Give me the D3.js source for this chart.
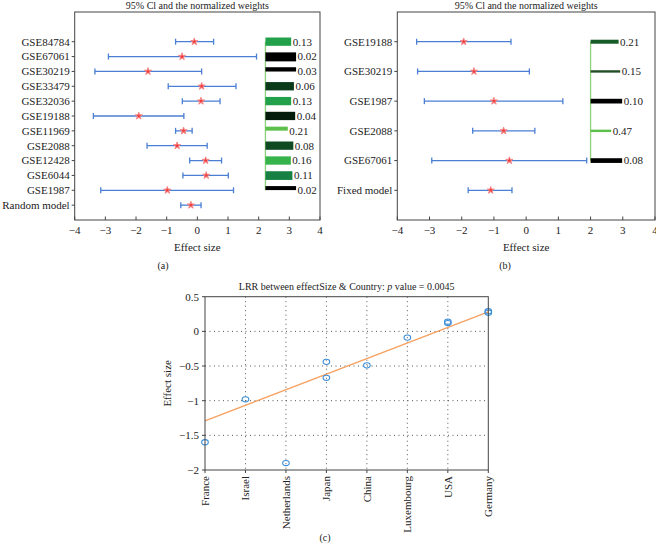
<!DOCTYPE html>
<html><head><meta charset="utf-8">
<script src="https://cdn.jsdelivr.net/npm/d3@7"></script>
<style>body{margin:0;background:#fff}svg{display:block}text{font-family:"Liberation Serif","DejaVu Serif",serif;fill:#222}</style>
</head><body><svg id="c" width="656" height="553"></svg>
<script>
// ---------- Data ----------
const studiesA = ["GSE84784","GSE67061","GSE30219","GSE33479","GSE32036","GSE19188","GSE11969","GSE2088","GSE12428","GSE6044","GSE1987","Random model"];
const effectA = [-0.10,-0.50,-1.61,0.14,0.12,-1.91,-0.45,-0.66,0.27,0.29,-0.98,-0.21];
const lowerA  = [-0.71,-2.90,-3.34,-0.95,-0.49,-3.39,-0.71,-1.64,-0.25,-0.47,-3.15,-0.54];
const upperA  = [0.53,1.93,0.14,1.26,0.74,-0.44,-0.17,0.32,0.79,1.01,1.18,0.12];
const weightsA = [0.13,0.02,0.03,0.06,0.13,0.04,0.21,0.08,0.16,0.11,0.02];
const barEndA  = [3.06,3.22,3.22,3.15,3.06,3.19,2.95,3.13,3.05,3.10,3.22];
const barStartA = 2.22;
const barColorsA = ["#22a14a","#000000","#000000","#0b3a1b","#22a14a","#041c0b","#5ec04c","#0f4a23","#36b34b","#178143","#000000"];
const barThickA = [8.3,9,4.3,8.3,8.3,8.3,4,8.3,8.3,8.7,4];

const studiesB = ["GSE19188","GSE30219","GSE1987","GSE2088","GSE67061","Fixed model"];
const effectB = [-1.94,-1.62,-1.00,-0.70,-0.52,-1.10];
const lowerB  = [-3.40,-3.37,-3.16,-1.66,-2.93,-1.80];
const upperB  = [-0.47,0.10,1.14,0.27,1.88,-0.44];
const weightsB = [0.21,0.15,0.10,0.47,0.08];
const barEndB  = [2.87,2.92,2.98,2.64,2.98];
const barStartB = 2.0;
const barColorsB = ["#175b29","#234e28","#000000","#5cc04b","#000000"];
const barThickB = [4,2.4,4.7,2.4,4.7];

const countries = ["France","Israel","Netherlands","Japan","China","Luxembourg","USA","Germany"];
const pointCountry = ["France","Israel","Netherlands","Japan","Japan","China","Luxembourg","USA","USA","Germany","Germany"];
const pointEffect  = [-1.60,-0.98,-1.90,-0.44,-0.67,-0.49,-0.09,0.14,0.12,0.27,0.29];
const fitEnds = [-1.29,0.28];
const xTicks = [-4,-3,-2,-1,0,1,2,3,4];
const yTicksC = [0.5,0,-0.5,-1,-1.5,-2];

// ---------- Drawing ----------
const svg = d3.select("#c");
const FRAME = "#444";
const EB = "#4a7fd3";

function forest(opt){
  const g = svg.append("g");
  const x = d3.scaleLinear().domain([-4,4]).range([opt.left,opt.right]);
  const y = d3.scaleLinear().domain(opt.ydom).range([opt.top,opt.bottom]);
  // title
  g.append("text").attr("x",(opt.left+opt.right)/2).attr("y",opt.top-3)
    .attr("text-anchor","middle").attr("font-size",10).text("95% Cl and the normalized weights");
  // bars
  const n = opt.weights.length;
  g.append("line").attr("x1",x(opt.barStart)).attr("x2",x(opt.barStart))
    .attr("y1",y(0)).attr("y2",y(n-1)).attr("stroke","#8fd07a").attr("stroke-width",1.3);
  opt.weights.forEach((w,i)=>{
    const th = opt.thick[i];
    const yy = opt.topAlign ? y(i)-4.2 : y(i)-th/2;
    g.append("rect").attr("x",x(opt.barStart)).attr("y",yy)
      .attr("width",x(opt.barEnd[i])-x(opt.barStart)).attr("height",th).attr("fill",opt.colors[i]);
    g.append("text").attr("x",x(opt.barEnd[i])+1.5).attr("y",y(i)).attr("dy","0.35em")
      .attr("font-size",11).text(d3.format(".2f")(w));
  });
  // error bars
  opt.studies.forEach((s,i)=>{
    const yy=y(i);
    g.append("line").attr("x1",x(opt.lower[i])).attr("x2",x(opt.upper[i])).attr("y1",yy).attr("y2",yy)
      .attr("stroke",EB).attr("stroke-width",1.3);
    [opt.lower[i],opt.upper[i]].forEach(v=>{
      g.append("line").attr("x1",x(v)).attr("x2",x(v)).attr("y1",yy-3).attr("y2",yy+3)
        .attr("stroke",EB).attr("stroke-width",1.3);
    });
    g.append("path").attr("d",d3.symbol(d3.symbolStar,16)())
      .attr("transform",`translate(${x(opt.effect[i])},${yy})`)
      .attr("fill","#f03c3c").attr("stroke","#f58a8a").attr("stroke-width",1);
  });
  // frame
  g.append("rect").attr("x",opt.left).attr("y",opt.top).attr("width",opt.right-opt.left)
    .attr("height",opt.bottom-opt.top).attr("fill","none").attr("stroke",FRAME).attr("stroke-width",1);
  // x ticks (inward)
  xTicks.forEach(t=>{
    g.append("line").attr("x1",x(t)).attr("x2",x(t)).attr("y1",opt.bottom).attr("y2",opt.bottom-3.5)
      .attr("stroke",FRAME);
    g.append("text").attr("x",x(t)).attr("y",opt.bottom+14).attr("text-anchor","middle")
      .attr("font-size",11).text(d3.format("")(t));
  });
  // y labels
  opt.studies.forEach((s,i)=>{
    g.append("line").attr("x1",opt.left).attr("x2",opt.left-3).attr("y1",y(i)).attr("y2",y(i)).attr("stroke",FRAME);
    g.append("text").attr("x",opt.left-5).attr("y",y(i)).attr("dy","0.35em").attr("text-anchor","end")
      .attr("font-size",11).text(s);
  });
  g.append("text").attr("x",(opt.left+opt.right)/2).attr("y",opt.labelY).attr("text-anchor","middle")
    .attr("font-size",11).text("Effect size");
  g.append("text").attr("x",opt.subX).attr("y",269).attr("text-anchor","middle")
    .attr("font-size",10).text(opt.sub);
}

forest({left:74.7,right:320,top:12,bottom:220,ydom:[-2,12],studies:studiesA,effect:effectA,
  lower:lowerA,upper:upperA,weights:weightsA,barEnd:barEndA,barStart:barStartA,colors:barColorsA,
  thick:barThickA,topAlign:true,labelY:250.5,subX:163,sub:"(a)"});
forest({left:397.3,right:655,top:12,bottom:220,ydom:[-1,6],studies:studiesB,effect:effectB,
  lower:lowerB,upper:upperB,weights:weightsB,barEnd:barEndB,barStart:barStartB,colors:barColorsB,
  thick:barThickB,topAlign:false,labelY:250.5,subX:505,sub:"(b)"});

// ---------- Panel C ----------
(function(){
  const L=205,R=488.3,T=296.7,B=470;
  const g = svg.append("g");
  const x = d3.scalePoint().domain(countries).range([L,R]);
  const y = d3.scaleLinear().domain([-2,0.5]).range([B,T]);
  // grid
  countries.slice(1,-1).forEach(c=>{
    g.append("line").attr("x1",x(c)).attr("x2",x(c)).attr("y1",T).attr("y2",B)
      .attr("stroke","#555").attr("stroke-width",1).attr("stroke-dasharray","1,3.5");
  });
  yTicksC.slice(1,-1).forEach(t=>{
    g.append("line").attr("x1",L).attr("x2",R).attr("y1",y(t)).attr("y2",y(t))
      .attr("stroke","#555").attr("stroke-width",1).attr("stroke-dasharray","1,3.5");
  });
  // fit line
  g.append("line").attr("x1",x(countries[0])).attr("x2",x(countries[countries.length-1]))
    .attr("y1",y(fitEnds[0])).attr("y2",y(fitEnds[1])).attr("stroke","#f5a262").attr("stroke-width",1.4);
  // points
  pointEffect.forEach((v,i)=>{
    g.append("ellipse").attr("cx",x(pointCountry[i])).attr("cy",y(v)).attr("rx",3.3).attr("ry",2.6)
      .attr("fill","none").attr("stroke","#3b8fd9").attr("stroke-width",1.1);
  });
  g.append("rect").attr("x",L).attr("y",T).attr("width",R-L).attr("height",B-T)
    .attr("fill","none").attr("stroke",FRAME).attr("stroke-width",1);
  yTicksC.forEach(t=>{
    g.append("line").attr("x1",L).attr("x2",L-3).attr("y1",y(t)).attr("y2",y(t)).attr("stroke",FRAME);
    g.append("text").attr("x",L-6).attr("y",y(t)).attr("dy","0.35em").attr("text-anchor","end")
      .attr("font-size",11).text(d3.format("")(t));
  });
  countries.forEach(c=>{
    g.append("line").attr("x1",x(c)).attr("x2",x(c)).attr("y1",B).attr("y2",B+3).attr("stroke",FRAME);
    g.append("text").attr("transform",`translate(${x(c)},${B+6}) rotate(-90)`).attr("dy","0.35em")
      .attr("text-anchor","end").attr("font-size",11).text(c);
  });
  const t = g.append("text").attr("x",(L+R)/2).attr("y",T-7).attr("text-anchor","middle").attr("font-size",10);
  t.append("tspan").text("LRR between effectSize & Country: ");
  t.append("tspan").attr("font-style","italic").text("p");
  t.append("tspan").text(" value = 0.0045");
  g.append("text").attr("transform",`translate(171,${(T+B)/2}) rotate(-90)`).attr("text-anchor","middle")
    .attr("font-size",11).text("Effect size");
  g.append("text").attr("x",325).attr("y",541).attr("text-anchor","middle").attr("font-size",10).text("(c)");
})();
</script></body></html>
